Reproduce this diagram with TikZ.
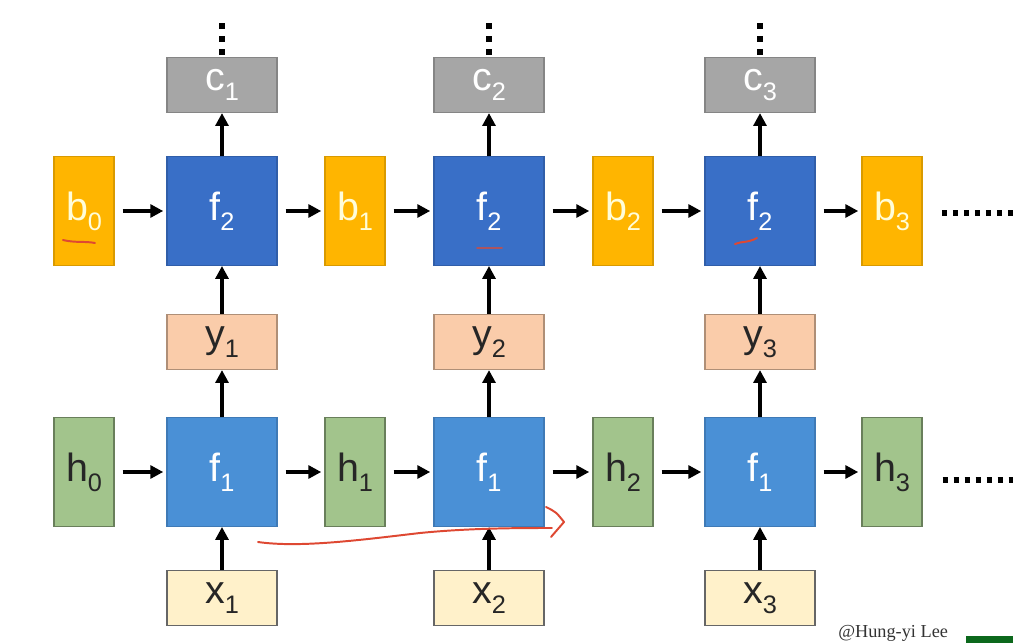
\documentclass[tikz,border=0pt]{standalone}
\usepackage{fontspec}
\setmainfont{Liberation Sans}
\newfontfamily\markfont{Liberation Serif}
\usepackage{tikz}
\usetikzlibrary{arrows.meta}
\definecolor{cgray}{RGB}{166,166,166}
\definecolor{ftwo}{RGB}{57,111,199}
\definecolor{fone}{RGB}{74,144,214}
\definecolor{borange}{RGB}{255,181,0}
\definecolor{hgreen}{RGB}{162,196,140}
\definecolor{ypeach}{RGB}{250,204,170}
\definecolor{xcream}{RGB}{255,241,202}
\definecolor{pen}{RGB}{222,72,50}
\definecolor{tagbar}{RGB}{12,104,28}
\newcommand{\lab}[2]{#1\raisebox{-0.25em}{\fontsize{18}{18}\selectfont #2}}
\tikzset{cell/.style={draw, line width=0.8pt, inner sep=0pt, font=\fontsize{28}{32}\selectfont}}
\tikzset{wide/.style={cell, minimum width=2.75cm, minimum height=1.375cm}}
\tikzset{square/.style={cell, minimum width=2.75cm, minimum height=2.72cm}}
\tikzset{tall/.style={cell, minimum width=1.5cm, minimum height=2.72cm}}
\tikzset{cnode/.style={wide, fill=cgray, draw=cgray!80!black, text=white}}
\tikzset{ftwonode/.style={square, fill=ftwo, draw=ftwo!85!black, text=white}}
\tikzset{fonenode/.style={square, fill=fone, draw=fone!85!black, text=white}}
\tikzset{bnode/.style={tall, fill=borange, draw=borange!85!black, text=yellow!15}}
\tikzset{hnode/.style={tall, fill=hgreen, draw=hgreen!65!black, text=black!85}}
\tikzset{ynode/.style={wide, fill=ypeach, draw=ypeach!70!black, text=black!85}}
\tikzset{xnode/.style={wide, fill=xcream, draw=black!60, text=black!85}}
\tikzset{arr/.style={line width=2.4pt, -{Triangle[length=0.32cm,width=0.32cm]}}}
\tikzset{harr/.style={arr, shorten <=0.2cm, shorten >=0.08cm}}
\tikzset{dotsv/.style={line width=0.15cm, dash pattern=on 0.15cm off 0.175cm}}
\tikzset{dotsh/.style={line width=0.14cm, dash pattern=on 0.14cm off 0.135cm}}
\tikzset{ink/.style={pen, line width=1.4pt, line cap=round, line join=round}}

\begin{document}
\begin{tikzpicture}[x=0.025cm, y=-0.025cm]
\clip (0,0) rectangle (1013,643);

\node[cnode] (c1) at (222, 85) {\lab{c}{1}};
\node[cnode] (c2) at (489, 85) {\lab{c}{2}};
\node[cnode] (c3) at (760, 85) {\lab{c}{3}};

\node[bnode] (b0) at (84, 211) {\lab{b}{0}};
\node[ftwonode] (ft1) at (222, 211) {\lab{f}{2}};
\node[bnode] (b1) at (355, 211) {\lab{b}{1}};
\node[ftwonode] (ft2) at (489, 211) {\lab{f}{2}};
\node[bnode] (b2) at (623, 211) {\lab{b}{2}};
\node[ftwonode] (ft3) at (760, 211) {\lab{f}{2}};
\node[bnode] (b3) at (892, 211) {\lab{b}{3}};

\node[ynode] (y1) at (222, 342) {\lab{y}{1}};
\node[ynode] (y2) at (489, 342) {\lab{y}{2}};
\node[ynode] (y3) at (760, 342) {\lab{y}{3}};

\node[hnode] (h0) at (84, 472) {\lab{h}{0}};
\node[fonenode] (fo1) at (222, 472) {\lab{f}{1}};
\node[hnode] (h1) at (355, 472) {\lab{h}{1}};
\node[fonenode] (fo2) at (489, 472) {\lab{f}{1}};
\node[hnode] (h2) at (623, 472) {\lab{h}{2}};
\node[fonenode] (fo3) at (760, 472) {\lab{f}{1}};
\node[hnode] (h3) at (892, 472) {\lab{h}{3}};

\node[xnode] (x1) at (222, 598) {\lab{x}{1}};
\node[xnode] (x2) at (489, 598) {\lab{x}{2}};
\node[xnode] (x3) at (760, 598) {\lab{x}{3}};

\draw[harr] (b0) -- (ft1);
\draw[harr] (ft1) -- (b1);
\draw[harr] (b1) -- (ft2);
\draw[harr] (ft2) -- (b2);
\draw[harr] (b2) -- (ft3);
\draw[harr] (ft3) -- (b3);

\draw[harr] (h0) -- (fo1);
\draw[harr] (fo1) -- (h1);
\draw[harr] (h1) -- (fo2);
\draw[harr] (fo2) -- (h2);
\draw[harr] (h2) -- (fo3);
\draw[harr] (fo3) -- (h3);

\draw[arr] (x1) -- (fo1);
\draw[arr] (x2) -- (fo2);
\draw[arr] (x3) -- (fo3);
\draw[arr] (fo1) -- (y1);
\draw[arr] (fo2) -- (y2);
\draw[arr] (fo3) -- (y3);
\draw[arr] (y1) -- (ft1);
\draw[arr] (y2) -- (ft2);
\draw[arr] (y3) -- (ft3);
\draw[arr] (ft1) -- (c1);
\draw[arr] (ft2) -- (c2);
\draw[arr] (ft3) -- (c3);

\draw[dotsv] ([yshift=0.06cm]c1.north) -- ++(0,-36);
\draw[dotsv] ([yshift=0.06cm]c2.north) -- ++(0,-36);
\draw[dotsv] ([yshift=0.06cm]c3.north) -- ++(0,-36);
\draw[dotsh] ([xshift=0.48cm,yshift=-0.05cm]b3.east) -- ++(75,0);
\draw[dotsh] ([xshift=0.5cm,yshift=-0.2cm]h3.east) -- ++(75,0);

% pen marks
\draw[ink] (63,240) .. controls (75,243) and (85,241) .. (95,243);
\draw[ink, pen!70!ftwo] (477,248) -- (502,248);
\draw[ink] (735,244) .. controls (742,241) and (748,243) .. (757,238);
\draw[ink] (258,542) .. controls (300,548) and (360,540) .. (420,533)
  .. controls (470,528) and (520,528) .. (552,528);
\draw[ink] (546,507) .. controls (556,512) .. (564,522) -- (551,537);

\node[font=\markfont\fontsize{13}{15}\selectfont, anchor=base west, text=black!80, inner sep=0pt] (tag) at (838, 637) {@Hung-yi Lee};
\fill[tagbar] (966,636) rectangle (1013,643);
\end{tikzpicture}
\end{document}
